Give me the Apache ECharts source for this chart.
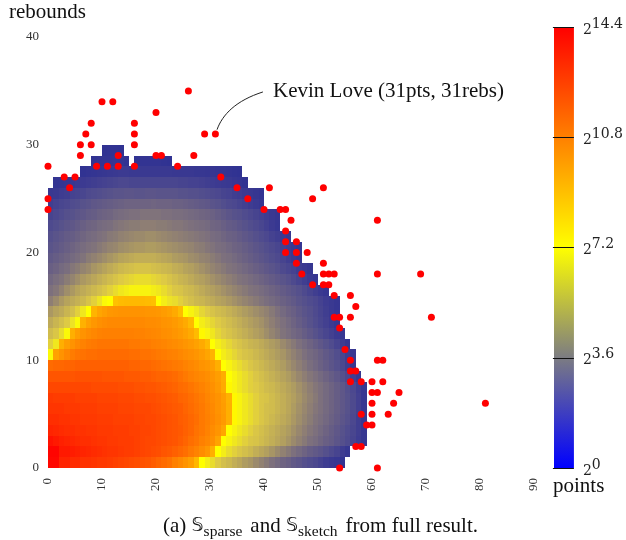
<!DOCTYPE html>
<html><head><meta charset="utf-8">
<style>html,body{margin:0;padding:0;background:#fff}#c{width:626px;height:540px}</style>
<script src="https://cdn.jsdelivr.net/npm/echarts@6/dist/echarts.min.js"></script>
</head><body><div id="c"></div>
<script>
// log2(points) per cell; rows are rebounds, position in row is points
const r0=[14.2,14.2,13.4,13.4,13.2,13.2,13,13,12.9,12.8,12.8,12.7,12.6,12.5,12.4,12.3,12.2,12.1,12,11.8,11.6,11.4,11.2,10.8,10.4,10,9.5,8.5,7.2,6.9,6.6,6.3,6,5.8,5.5,5.3,5,4.8,4.5,4.2,3.9,3.6,3.3,3,2.8,2.5,2.3,2,1.8,1.6,1.3,1,.8,.6,.3];
const r1=[14.3,14.3,13.7,13.7,13.6,13.5,13.4,13.3,13.2,13.1,13,12.9,12.9,12.8,12.7,12.7,12.6,12.5,12.4,12.3,12.2,12,11.9,11.7,11.5,11.3,11,10.7,10.3,9.8,8.8,7.2,6.9,6.6,6.4,6.2,6,5.8,5.5,5.3,5.1,4.8,4.5,4.2,3.9,3.6,3.3,3,2.7,2.5,2.3,2,1.7,1.4,1,.6];
const r2=[13.9,13.7,13.5,13.4,13.3,13.2,13.1,13.1,13,12.9,12.9,12.8,12.8,12.7,12.7,12.7,12.6,12.5,12.4,12.4,12.3,12.2,12.1,12,11.8,11.6,11.3,11.1,10.8,10.5,10.1,9.3,7.2,7,6.8,6.6,6.4,6.2,6.1,5.9,5.7,5.5,5.3,5.1,4.8,4.5,4.2,3.9,3.6,3.4,3.1,2.8,2.6,2.3,2,1.7,1.4,1,.6];
const r3=[13.4,13.3,13.2,13.1,13.1,13,13,12.9,12.9,12.8,12.8,12.8,12.7,12.7,12.7,12.6,12.6,12.5,12.5,12.4,12.3,12.2,12.1,12,11.9,11.7,11.5,11.2,11,10.7,10.3,9.9,9.2,7.2,7,6.8,6.6,6.4,6.2,6,5.8,5.6,5.4,5.2,5,4.7,4.4,4.1,3.8,3.6,3.3,3,2.7,2.4,2.1,1.8,1.5,1.1,.6];
const r4=[13.1,13.1,13,13,12.9,12.9,12.8,12.8,12.8,12.7,12.7,12.7,12.6,12.6,12.6,12.6,12.5,12.5,12.4,12.4,12.3,12.2,12.1,12,11.8,11.7,11.5,11.3,11,10.8,10.5,10.1,9.7,8.8,7.3,7,6.8,6.6,6.4,6.2,6,5.8,5.6,5.4,5.2,4.9,4.6,4.3,4,3.7,3.5,3.2,2.9,2.6,2.3,2,1.6,1.1,.6];
const r5=[12.9,12.9,12.9,12.8,12.8,12.8,12.7,12.7,12.7,12.6,12.6,12.6,12.6,12.5,12.5,12.5,12.4,12.4,12.4,12.3,12.2,12.1,12,11.9,11.8,11.6,11.4,11.2,11,10.7,10.4,10,9.6,8.8,7.3,7,6.8,6.6,6.4,6.2,6,5.9,5.7,5.5,5.3,5,4.7,4.4,4.1,3.8,3.6,3.3,3,2.7,2.4,2.1,1.7,1.2,.6];
const r6=[12.8,12.7,12.7,12.7,12.7,12.6,12.6,12.6,12.6,12.5,12.5,12.5,12.5,12.4,12.4,12.4,12.3,12.3,12.2,12.2,12.1,12,11.9,11.8,11.6,11.5,11.3,11.1,10.9,10.6,10.3,10,9.5,8.7,7.3,7,6.8,6.6,6.4,6.2,6.1,5.9,5.7,5.5,5.3,5.1,4.8,4.5,4.2,3.9,3.6,3.3,3,2.7,2.4,2.1,1.7,1.2,.6];
const r7=[12.4,12.4,12.4,12.4,12.4,12.4,12.4,12.4,12.3,12.3,12.3,12.3,12.3,12.2,12.2,12.2,12.1,12.1,12,12,11.9,11.8,11.7,11.6,11.4,11.3,11.1,10.9,10.7,10.4,10.1,9.7,9,7.3,7,6.8,6.6,6.4,6.3,6.1,5.9,5.8,5.6,5.4,5.2,5,4.7,4.4,4.1,3.8,3.6,3.3,3,2.7,2.4,2,1.6,1.1,.6];
const r8=[12,12,12,12,12,12.1,12.1,12.1,12.1,12.1,12,12,12,12,11.9,11.9,11.9,11.8,11.8,11.7,11.6,11.6,11.5,11.4,11.2,11,10.8,10.6,10.4,10.2,9.9,9.5,8.9,7.2,7,6.8,6.6,6.4,6.2,6,5.8,5.6,5.4,5.2,5,4.7,4.4,4.1,3.8,3.6,3.3,3,2.7,2.4,2,1.6,1.1,.6];
const r9=[11.4,11.5,11.5,11.6,11.6,11.7,11.7,11.7,11.7,11.7,11.7,11.7,11.7,11.7,11.7,11.6,11.6,11.5,11.5,11.4,11.3,11.2,11.1,11,10.9,10.7,10.5,10.3,10,9.8,9.5,8.8,7.2,7,6.8,6.6,6.4,6.2,6,5.8,5.6,5.4,5.2,5,4.7,4.4,4.1,3.8,3.5,3.2,2.9,2.6,2.3,2,1.6,1.1,.6];
const r10=[7.1,9.4,10,10.5,10.9,11.1,11.2,11.3,11.3,11.4,11.4,11.4,11.4,11.4,11.4,11.3,11.3,11.2,11.2,11.1,11,10.9,10.8,10.7,10.5,10.3,10.1,9.9,9.6,9.2,8.6,7.2,6.9,6.7,6.5,6.3,6.1,6,5.8,5.6,5.4,5.2,5,4.8,4.5,4.2,3.9,3.6,3.3,3.1,2.8,2.5,2.2,1.9,1.5,1,.6];
const r11=[6.4,6.8,8.8,9.5,10,10.4,10.7,10.9,11,11.1,11.1,11.1,11.1,11.1,11.1,11,11,10.9,10.9,10.8,10.7,10.6,10.4,10.3,10.1,9.9,9.7,9.4,9,8.4,7.2,6.9,6.7,6.5,6.3,6.1,5.9,5.7,5.6,5.4,5.2,5,4.8,4.5,4.2,3.9,3.6,3.3,3,2.7,2.4,2.1,1.8,1.4,1,.5];
const r12=[5.9,6.2,6.6,7.1,8.8,9.5,10,10.3,10.5,10.7,10.8,10.8,10.8,10.8,10.8,10.8,10.7,10.7,10.6,10.5,10.4,10.2,10.1,9.9,9.7,9.4,9,8.3,7.3,7,6.8,6.5,6.3,6.1,5.9,5.7,5.5,5.3,5.1,4.9,4.6,4.3,4,3.7,3.5,3.2,3,2.7,2.4,2.1,1.8,1.5,1.2,.9,.5];
const r13=[5.4,5.7,6,6.3,6.7,7.1,8.7,9.4,9.8,10.1,10.3,10.4,10.4,10.4,10.4,10.4,10.4,10.4,10.3,10.3,10.2,10,9.9,9.7,9.4,9,8.4,7.2,6.9,6.7,6.5,6.3,6.1,5.9,5.7,5.5,5.3,5.1,4.9,4.7,4.4,4.1,3.8,3.6,3.3,3,2.7,2.4,2.1,1.8,1.5,1.2,.9,.5];
const r14=[4.9,5.2,5.4,5.7,6,6.4,6.8,7.2,8.6,9.2,9.5,9.8,9.9,10,10,10,10,10,9.9,9.9,9.8,9.6,9.4,9,8.3,7.2,7,6.8,6.5,6.3,6.1,5.9,5.8,5.6,5.4,5.2,5,4.8,4.6,4.4,4.2,3.9,3.6,3.3,3,2.8,2.5,2.2,2,1.7,1.4,1.1,.8,.5];
const r15=[4.1,4.5,4.9,5.2,5.4,5.6,5.8,6.1,6.4,6.7,7.1,7.2,8.1,8.3,8.4,8.4,8.4,8.4,8.3,8.2,7.2,6.9,6.7,6.6,6.4,6.2,6,5.8,5.7,5.5,5.4,5.2,5.1,4.9,4.7,4.5,4.3,4.1,3.9,3.7,3.5,3.3,3.1,2.9,2.7,2.5,2.2,2,1.8,1.6,1.3,1,.8,.5];
const r16=[3.6,3.8,4.2,4.6,4.9,5.2,5.4,5.6,5.8,6,6.2,6.4,6.6,6.8,6.9,7,7,7,7,6.9,6.8,6.6,6.4,6.2,6.1,5.9,5.8,5.6,5.4,5.2,5.1,4.9,4.7,4.5,4.3,4.1,3.9,3.7,3.6,3.4,3.2,3,2.8,2.6,2.4,2.2,2,1.7,1.4,1.1,.8,.5];
const r17=[3.2,3.5,3.7,4,4.3,4.6,4.9,5.1,5.3,5.5,5.7,5.9,6.1,6.3,6.4,6.5,6.6,6.6,6.6,6.5,6.4,6.3,6.1,5.9,5.7,5.6,5.4,5.2,5.1,4.9,4.7,4.5,4.3,4.1,3.9,3.7,3.6,3.4,3.2,3,2.8,2.6,2.4,2.2,2,1.7,1.4,1.1,.8,.5];
const r18=[2.8,3,3.3,3.5,3.8,4,4.3,4.5,4.8,5,5.2,5.4,5.6,5.8,5.9,6,6.1,6.1,6.1,6,5.9,5.8,5.7,5.5,5.4,5.2,5.1,4.9,4.7,4.5,4.3,4.1,3.9,3.7,3.6,3.4,3.2,3,2.8,2.6,2.4,2.2,2,1.7,1.5,1.3,1,.8,.5];
const r19=[2.5,2.7,2.9,3.1,3.3,3.5,3.7,4,4.2,4.4,4.6,4.8,5,5.2,5.3,5.4,5.5,5.5,5.5,5.5,5.4,5.3,5.2,5,4.9,4.8,4.6,4.5,4.3,4.2,4,3.8,3.6,3.5,3.3,3.1,2.9,2.7,2.5,2.3,2.1,1.9,1.7,1.4,1.1,.8,.5];
const r20=[2.2,2.4,2.6,2.8,3,3.2,3.4,3.6,3.7,3.9,4.1,4.3,4.4,4.6,4.7,4.8,4.9,4.9,5,5,4.9,4.8,4.7,4.6,4.5,4.4,4.3,4.1,4,3.8,3.7,3.5,3.4,3.2,3,2.9,2.7,2.5,2.3,2.1,1.9,1.7,1.5,1.2,1,.7,.4];
const r21=[2,2.2,2.4,2.6,2.7,2.9,3.1,3.3,3.4,3.6,3.7,3.9,4,4.2,4.3,4.4,4.5,4.5,4.6,4.6,4.5,4.4,4.3,4.2,4.1,4,3.9,3.8,3.7,3.6,3.4,3.3,3.1,2.9,2.8,2.6,2.4,2.2,2,1.8,1.6,1.3,1.1,.8,.5];
const r22=[1.7,1.9,2.1,2.3,2.4,2.6,2.8,3,3.1,3.3,3.4,3.5,3.7,3.8,3.9,4,4,4.1,4.1,4.1,4,4,3.9,3.8,3.8,3.7,3.6,3.5,3.4,3.3,3.1,3,2.8,2.6,2.5,2.3,2.1,1.9,1.7,1.5,1.2,.9,.6];
const r23=[1.4,1.6,1.8,2,2.1,2.3,2.4,2.6,2.7,2.9,3,3.1,3.3,3.4,3.5,3.6,3.6,3.7,3.7,3.7,3.7,3.6,3.6,3.5,3.5,3.4,3.3,3.2,3.1,3,2.9,2.7,2.5,2.3,2.1,2,1.8,1.6,1.4,1.2,1,.7,.5];
const r24=[1.1,1.3,1.5,1.6,1.8,1.9,2.1,2.2,2.4,2.5,2.6,2.7,2.8,2.9,3,3,3,3,3,3.1,3,3,3,2.9,2.9,2.8,2.7,2.6,2.5,2.4,2.2,2.1,1.9,1.7,1.6,1.4,1.2,1,.8,.5];
const r25=[.7,.8,1,1.1,1.3,1.4,1.5,1.7,1.8,1.9,2,2.1,2.2,2.2,2.3,2.3,2.2,2.2,2.3,2.3,2.2,2.2,2.2,2.2,2.1,2.1,2,2,1.9,1.8,1.7,1.6,1.4,1.3,1.1,1,.8,.7,.5,.3];
const r26=[.3,.4,.5,.6,.8,.9,1,1.1,1.2,1.3,1.4,1.5,1.6,1.6,1.5,1.5,1.5,1.5,1.5,1.5,1.5,1.5,1.5,1.4,1.4,1.3,1.3,1.2,1.1,1,.9,.8,.7,.5,.4,.2];
const r27=[.2,.3,.4,.5,.6,.7,.8,.9,.9,.8,.8,.8,.8,.8,.8,.8,.8,.7,.7,.7,.7,.6,.6,.5,.5,.4,.4,.3,.2,.1];
const r28=[.2,.3,.3,.3,.4,.3,.2,null,.2,.3,.3,.3,.3,.2,.1];
const r29=[.1,.2,.2,.1];
const heatRows=[r0,r1,r2,r3,r4,r5,r6,r7,r8,r9,r10,r11,r12,r13,r14,r15,r16,r17,r18,r19,r20,r21,r22,r23,r24,r25,r26,r27,r28,r29];
const rowStart=[0,0,0,0,0,0,0,0,0,0,0,0,0,0,0,0,0,0,0,0,0,0,0,0,0,0,1,6,8,10];

// sparse outliers
const sparseX=[0,0,0,3,5,4,6,6,7,8,8,9,10,12,11,13,13,16,16,16,16,20,21,20,24,26,27,29,31,32,35,37,40,41,43,44,45,44,44,46,44,46,48,46,47,49,51,51,52,53,51,52,53,56,57,53,54,56,51,49,61,61,69,71,81,54,55,56,61,62,56,57,56,58,60,62,60,61,65,60,64,58,60,63,59,60,57,58,54,61];
const sparseY=[28,25,24,27,27,26,29,30,31,30,32,28,34,34,28,28,29,28,30,31,32,29,29,33,28,35,29,31,31,27,26,25,24,26,24,24,23,22,21,21,20,20,20,19,18,17,19,18,18,18,17,17,16,16,15,14,14,14,26,25,23,18,18,14,6,13,11,10,10,10,9,9,8,8,8,8,7,7,7,6,6,5,5,5,4,4,2,2,0,0];

const xTicks=[0,10,20,30,40,50,60,70,80,90];
const yTicks=[0,10,20,30,40];
const barExponents=['0','3.6','7.2','10.8','14.4'];
const heatColors=['#2e3192','#3c3a91','#504c8e','#665d85','#7d707d','#9b8a6c','#beaa58','#deca44','#ffff00','#ffc000','#ffaa00','#ff9500','#ff8000','#ff6000','#ff4000','#ff2000','#ff0000'];
const barColors=['#0000ff','#7c7c82','#ffff00','#ff8000','#ff0000'];
const leader=[[39.8,34.9,34.8,34.1,32.3,32.8,31.3,31.4]];
const caption=['(a) ','𝕊','sparse','and ','𝕊','sketch','from full result.'];

const heatData=[];
heatRows.forEach((row,y)=>row.forEach((v,i)=>{ if(v!==null) heatData.push([rowStart[y]+i,y,v]); }));
const sparseData=sparseX.map((x,i)=>[x,sparseY[i]]);

const SERIF='"Liberation Serif","Times New Roman",serif';
const chart=echarts.init(document.getElementById('c'),null,{renderer:'canvas'});
chart.setOption({
  animation:false,
  backgroundColor:'#fff',
  grid:[
    {left:48,top:37,width:486,height:431},
    {left:554,top:27,width:22,height:441}
  ],
  xAxis:[
    {type:'value',min:0,max:90,interval:10,gridIndex:0,axisLine:{show:false},axisTick:{show:false},splitLine:{show:false},
     axisLabel:{rotate:90,margin:10,fontFamily:SERIF,fontSize:13,color:'#333',showMinLabel:true,showMaxLabel:true,
       formatter:v=>String(xTicks[xTicks.indexOf(v)])}},
    {type:'value',min:0,max:1,gridIndex:1,show:false}
  ],
  yAxis:[
    {type:'value',min:0,max:40,interval:10,gridIndex:0,axisLine:{show:false},axisTick:{show:false},splitLine:{show:false},
     axisLabel:{margin:9,fontFamily:SERIF,fontSize:13,color:'#333',formatter:v=>String(yTicks[yTicks.indexOf(v)])}},
    {type:'value',min:0,max:14.4,interval:3.6,gridIndex:1,position:'right',z:10,axisLine:{show:false,onZero:false},
     axisTick:{show:true,inside:true,length:21,lineStyle:{color:'#111',width:1}},splitLine:{show:false},
     axisLabel:{margin:9,showMinLabel:true,showMaxLabel:true,
       formatter:(v,i)=>'{b|2}{s|'+barExponents[i]+'}',
       rich:{b:{fontFamily:'"DejaVu Serif",serif',fontSize:14,color:'#222',lineHeight:20,verticalAlign:'bottom'},
             s:{fontFamily:'"DejaVu Serif",serif',fontSize:14,color:'#222',lineHeight:20,verticalAlign:'top'}}}}
  ],
  visualMap:[{type:'continuous',show:false,min:0,max:14.4,dimension:2,seriesIndex:0,inRange:{color:heatColors}}],
  series:[
    {type:'custom',xAxisIndex:0,yAxisIndex:0,z:2,silent:true,clip:false,encode:{x:0,y:1},data:heatData,
     renderItem:(p,api)=>{
       const a=api.coord([api.value(0),api.value(1)]), b=api.coord([api.value(0)+1,api.value(1)+1]);
       const x0=Math.round(a[0]),x1=Math.round(b[0]),y0=Math.round(a[1]),y1=Math.round(b[1]);
       return {type:'rect',shape:{x:x0,y:y1,width:x1-x0,height:y0-y1},style:{fill:api.visual('color')}};
     }},
    {type:'scatter',xAxisIndex:0,yAxisIndex:0,z:4,silent:true,data:sparseData,symbolSize:7,clip:false,
     itemStyle:{color:'#ff0000',opacity:1}},
    {type:'custom',xAxisIndex:0,yAxisIndex:0,z:3,silent:true,clip:false,data:leader,
     renderItem:(p,api)=>{
       const s=api.coord([api.value(0),api.value(1)]),c1=api.coord([api.value(2),api.value(3)]),
             c2=api.coord([api.value(4),api.value(5)]),e=api.coord([api.value(6),api.value(7)]);
       return {type:'bezierCurve',shape:{x1:s[0],y1:s[1],cpx1:c1[0],cpy1:c1[1],cpx2:c2[0],cpy2:c2[1],x2:e[0],y2:e[1]},
               style:{fill:null,stroke:'#222',lineWidth:1}};
     }},
    {type:'custom',xAxisIndex:1,yAxisIndex:1,z:2,silent:true,clip:false,data:[[0,0,1,14.4]],
     renderItem:(p,api)=>{
       const a=api.coord([api.value(0),api.value(1)]),b=api.coord([api.value(2),api.value(3)]);
       return {type:'rect',shape:{x:a[0],y:b[1],width:b[0]-a[0],height:a[1]-b[1]},
         style:{fill:new echarts.graphic.LinearGradient(0,1,0,0,barColors.map((c,i)=>({offset:i/(barColors.length-1),color:c})))}};
     }}
  ],
  graphic:[
    {type:'text',left:9,top:2,style:{text:'rebounds',fontFamily:SERIF,fontSize:21,fill:'#111'}},
    {type:'text',left:273,top:81,style:{text:'Kevin Love (31pts, 31rebs)',fontFamily:SERIF,fontSize:21,fill:'#111'}},
    {type:'text',left:553,top:476,style:{text:'points',fontFamily:SERIF,fontSize:21,fill:'#111'}},
    {type:'text',left:163,top:516,style:{
      text:'{t|'+caption[0]+'}{S|'+caption[1]+'}{u|'+caption[2]+'}{a|'+caption[3]+'}{S|'+caption[4]+'}{u|'+caption[5]+'}{e|'+caption[6]+'}',
      rich:{t:{fontFamily:SERIF,fontSize:21,fill:'#111',lineHeight:26,verticalAlign:'middle'},
            a:{fontFamily:SERIF,fontSize:21,fill:'#111',lineHeight:26,verticalAlign:'middle',padding:[0,0,0,8]},
            e:{fontFamily:SERIF,fontSize:21,fill:'#111',lineHeight:26,verticalAlign:'middle',padding:[0,0,0,8]},
            S:{fontFamily:'"DejaVu Sans"',fontSize:19,fill:'#111',lineHeight:26,verticalAlign:'middle'},
            u:{fontFamily:SERIF,fontSize:15.5,fill:'#111',lineHeight:26,verticalAlign:'bottom'}}}}
  ]
});
</script></body></html>
